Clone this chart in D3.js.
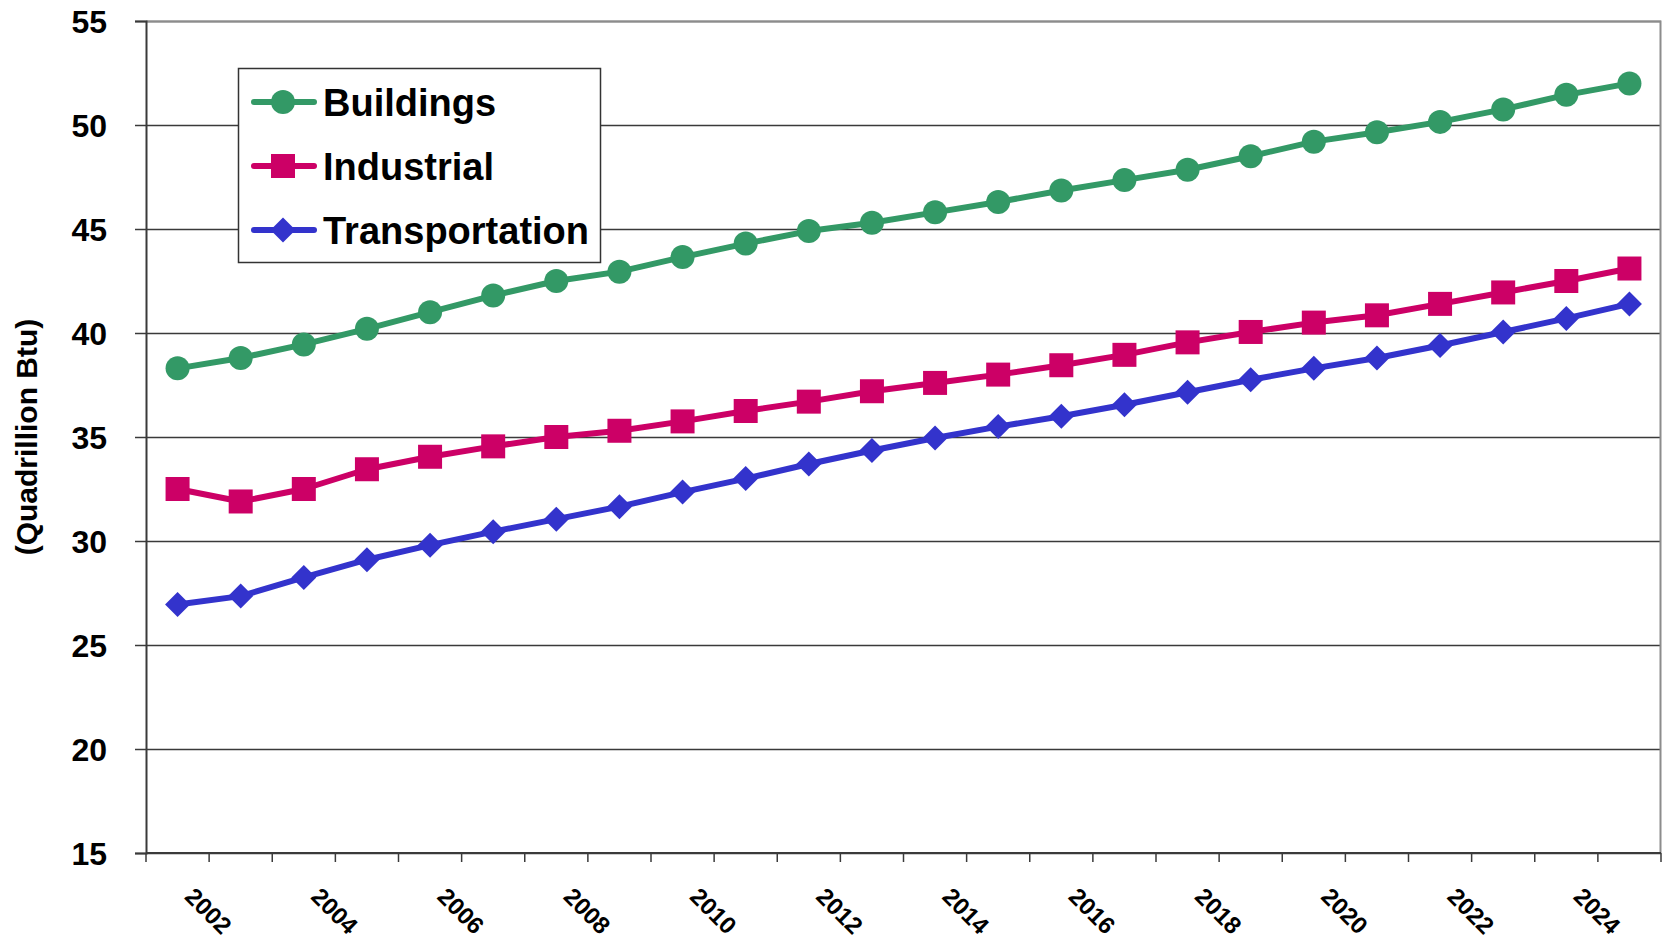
<!DOCTYPE html>
<html>
<head>
<meta charset="utf-8">
<script src="https://cdn.jsdelivr.net/npm/d3@7"></script>
<style>
  body { margin: 0; background: #fff; }
  svg text { font-family: Arial, "Liberation Sans", sans-serif; font-weight: bold; fill: #000; }
</style>
</head>
<body>
<div id="chart"></div>
<script>
// data
const years = d3.range(2002, 2026);
const tickYears = [2002, 2004, 2006, 2008, 2010, 2012, 2014, 2016, 2018, 2020, 2022, 2024];
const yTicks = [15, 20, 25, 30, 35, 40, 45, 50, 55];

const buildings = [38.3, 38.8, 39.45, 40.2, 41.0, 41.8, 42.5, 42.95, 43.65, 44.3, 44.9, 45.3,
                   45.8, 46.3, 46.85, 47.35, 47.85, 48.5, 49.2, 49.65, 50.15, 50.75, 51.45, 52.0];
const industrial = [32.5, 31.9, 32.5, 33.45, 34.05, 34.55, 35.0, 35.3, 35.75, 36.25, 36.7, 37.2,
                    37.6, 38.0, 38.45, 38.95, 39.55, 40.05, 40.5, 40.85, 41.4, 41.95, 42.5, 43.1];
const transportation = [26.95, 27.35, 28.25, 29.1, 29.8, 30.45, 31.05, 31.65, 32.35, 33.0, 33.7, 34.35,
                        34.95, 35.5, 36.0, 36.55, 37.15, 37.75, 38.3, 38.8, 39.4, 40.05, 40.7, 41.4];

const series = [
  { name: "Buildings", values: buildings, color: "#339966", marker: "circle" },
  { name: "Industrial", values: industrial, color: "#CC0066", marker: "square" },
  { name: "Transportation", values: transportation, color: "#3333CC", marker: "diamond" }
];

const W = 1662, H = 940;
const margin = { top: 21, right: 1, bottom: 87, left: 146 };
const w = W - margin.left - margin.right;
const h = H - margin.top - margin.bottom;

const svg = d3.select("#chart").append("svg")
    .attr("width", W).attr("height", H);
const g = svg.append("g")
    .attr("transform", `translate(${margin.left},${margin.top})`);

// category scale, points sit in the middle of each band
const x = d3.scaleBand().domain(years).range([0, w]);
const y = d3.scaleLinear().domain([15, 55]).range([h, 0]);
const cx = d => x(d) + x.bandwidth() / 2;

// grid lines
g.append("g")
  .call(d3.axisLeft(y).tickValues(yTicks).tickSize(-w).tickFormat(""))
  .call(s => s.select(".domain").remove())
  .call(s => s.selectAll("line").attr("stroke", "#3a3a3a").attr("stroke-width", 1.5));

// plot border (top and right)
g.append("path")
  .attr("d", `M0,0.5H${w - 0.5}V${h}`)
  .attr("fill", "none").attr("stroke", "#8c8c8c").attr("stroke-width", 2);

// y axis
const yAxis = g.append("g")
  .call(d3.axisLeft(y).tickValues(yTicks).tickSize(11).tickPadding(28));
yAxis.select(".domain").attr("stroke", "#3a3a3a").attr("stroke-width", 2);
yAxis.selectAll("line").attr("stroke", "#3a3a3a").attr("stroke-width", 1.5);
yAxis.selectAll("text").style("font-size", "32px").attr("dy", "0.36em");

// x axis: ticks on category boundaries
const xAxis = g.append("g").attr("transform", `translate(0,${h})`);
xAxis.append("line")
  .attr("x1", 0).attr("x2", w)
  .attr("stroke", "#3a3a3a").attr("stroke-width", 2);
xAxis.selectAll(".tick")
  .data(years.concat([null]))
  .join("line")
  .attr("class", "tick")
  .attr("x1", (d, i) => i * x.step()).attr("x2", (d, i) => i * x.step())
  .attr("y1", 0).attr("y2", 9)
  .attr("stroke", "#3a3a3a").attr("stroke-width", 1.5);
xAxis.selectAll(".xlab")
  .data(tickYears)
  .join("text")
  .attr("class", "xlab")
  .attr("transform", d => `translate(${cx(d) + 6},${45}) rotate(45)`)
  .attr("text-anchor", "start")
  .style("font-size", "24px")
  .text(d => d);

// y axis title
svg.append("text")
  .attr("transform", `translate(37,${437}) rotate(-90)`)
  .attr("text-anchor", "middle")
  .style("font-size", "30px")
  .text("(Quadrillion Btu)");

function drawMarker(sel, type, color) {
  if (type === "circle") {
    sel.append("circle").attr("r", 12).attr("fill", color);
  } else if (type === "square") {
    sel.append("rect").attr("x", -12).attr("y", -12).attr("width", 24).attr("height", 24).attr("fill", color);
  } else {
    sel.append("path").attr("d", "M0,-12.5L12.5,0L0,12.5L-12.5,0Z").attr("fill", color);
  }
}

const line = d3.line()
  .x((d, i) => cx(years[i]))
  .y(d => y(d));

series.forEach(s => {
  g.append("path")
    .attr("d", line(s.values))
    .attr("fill", "none")
    .attr("stroke", s.color)
    .attr("stroke-width", 6)
    .attr("stroke-linejoin", "round");
  g.append("g").selectAll("g")
    .data(s.values)
    .join("g")
    .attr("transform", (d, i) => `translate(${cx(years[i])},${y(d)})`)
    .each(function () { drawMarker(d3.select(this), s.marker, s.color); });
});

// legend
const legend = svg.append("g").attr("transform", "translate(238,68)");
legend.append("rect")
  .attr("x", 0.5).attr("y", 0.5).attr("width", 362).attr("height", 194)
  .attr("fill", "#fff").attr("stroke", "#333").attr("stroke-width", 1.5);
series.forEach((s, i) => {
  const row = legend.append("g").attr("transform", `translate(0,${34 + i * 64})`);
  row.append("line")
    .attr("x1", 16).attr("x2", 76)
    .attr("stroke", s.color).attr("stroke-width", 6).attr("stroke-linecap", "round");
  const m = row.append("g").attr("transform", "translate(45,0)");
  drawMarker(m, s.marker, s.color);
  row.append("text")
    .attr("x", 85).attr("dy", "0.38em")
    .style("font-size", "38px")
    .text(s.name);
});
</script>
</body>
</html>
